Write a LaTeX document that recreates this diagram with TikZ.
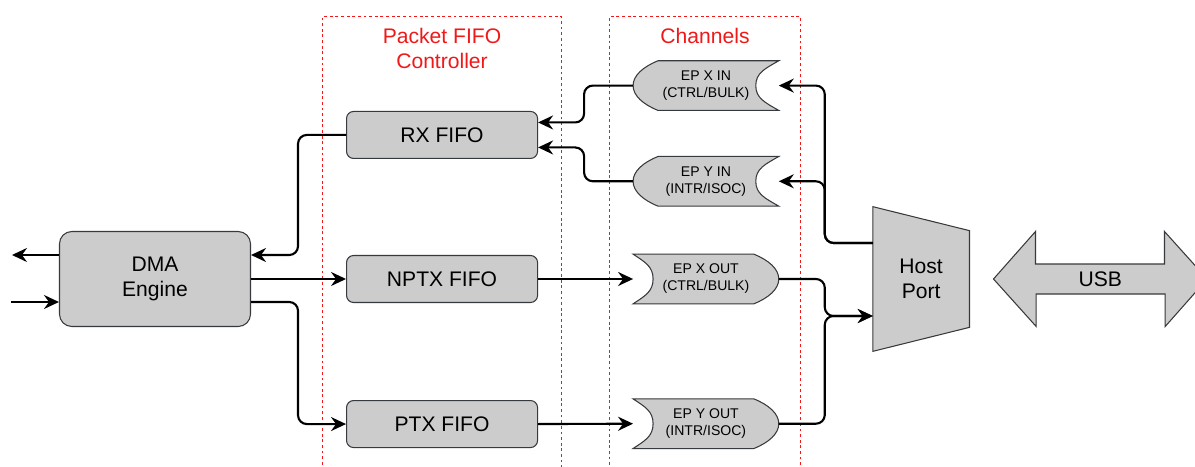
\documentclass[tikz,border=0pt]{standalone}
\usepackage{fontspec}
\setmainfont{Liberation Sans}
\usetikzlibrary{positioning, calc, backgrounds, arrows.meta}
\definecolor{usbFill}{HTML}{CCCCCC}
\definecolor{usbLine}{HTML}{36393D}
\definecolor{usbZone}{HTML}{F01818}

\begin{document}
\begin{tikzpicture}[
  block/.style={draw=usbLine, fill=usbFill, rounded corners=4pt, line width=0.6pt, align=center, font=\fontsize{12}{14.2}\selectfont, minimum width=3.82cm, minimum height=0.94cm, inner sep=0pt},
  chan/.style={align=center, font=\fontsize{8}{9.7}\selectfont, minimum width=2.9cm, minimum height=0.98cm, inner sep=0pt},
  port/.style={align=center, font=\fontsize{12}{14.2}\selectfont, inner sep=0pt},
  outline/.style={draw=usbLine, fill=usbFill, line width=0.6pt},
  zone/.style={draw=usbZone, dash pattern=on 1.6pt off 1.6pt, line width=0.6pt, minimum height=9.2cm, anchor=north west},
  zonelabel/.style={text=usbZone, align=center, font=\fontsize{12}{14.2}\selectfont},
  arr/.style={-{Stealth[length=3mm, width=2.8mm, inset=1mm]}, line width=1.2pt, rounded corners=5pt}
]
\useasboundingbox (-3.1,-3.74) rectangle (20.8,5.58);

\node[zone, minimum width=4.78cm] (fifozone) at (3.34,5.26) {};
\node[zone, minimum width=3.82cm] (chanzone) at (9.08,5.26) {};
\node[zonelabel] (fifolabel) at ($(fifozone.north)+(0,-0.65)$) {Packet FIFO\\Controller};
\node[zonelabel] (chanlabel) at ($(chanzone.north)+(0,-0.4)$) {Channels};

\node[block, rounded corners=7pt, minimum height=1.9cm] (dma) at (0,0) {DMA\\Engine};
\node[block, right=1.9cm of dma] (nptx) {NPTX FIFO};
\node[block, above=1.92cm of nptx] (rx) {RX FIFO};
\node[block, below=1.94cm of nptx] (ptx) {PTX FIFO};

\node[chan, right=1.9cm of nptx] (epxout) {EP X OUT\\(CTRL/BULK)};
\node[chan, below=1.9cm of epxout] (epyout) {EP Y OUT\\(INTR/ISOC)};
\node[chan, above=0.96cm of epxout] (epyin) {EP Y IN\\(INTR/ISOC)};
\node[chan, above=0.92cm of epyin] (epxin) {EP X IN\\(CTRL/BULK)};

\node[port, minimum width=1.92cm, minimum height=2.88cm, right=1.88cm of epxout] (host) {Host\\Port};
\node[port, minimum width=4.26cm, minimum height=1.9cm, right=0.48cm of host] (usb) {USB};

\coordinate (sysout) at ([xshift=-0.94cm, yshift=0.48cm]dma.west);
\coordinate (sysin) at ([xshift=-0.96cm, yshift=-0.46cm]dma.west);

\begin{scope}[on background layer]
\foreach \n in {epxin, epyin} {
  \draw[outline] ([xshift=0.5cm]\n.north west) -- (\n.north east)
    .. controls ([xshift=-0.28cm, yshift=-0.16cm]\n.north east) and ([xshift=-0.46cm, yshift=0.25cm]\n.east) .. ([xshift=-0.46cm]\n.east)
    .. controls ([xshift=-0.46cm, yshift=-0.25cm]\n.east) and ([xshift=-0.28cm, yshift=0.16cm]\n.south east) .. (\n.south east)
    -- ([xshift=0.5cm]\n.south west)
    .. controls ([xshift=0.2cm, yshift=0.12cm]\n.south west) and ([yshift=-0.2cm]\n.west) .. (\n.west)
    .. controls ([yshift=0.2cm]\n.west) and ([xshift=0.2cm, yshift=-0.12cm]\n.north west) .. ([xshift=0.5cm]\n.north west)
    -- cycle;
}
\foreach \n in {epxout, epyout} {
  \draw[outline] (\n.north west) -- ([xshift=-0.5cm]\n.north east)
    .. controls ([xshift=-0.2cm, yshift=-0.12cm]\n.north east) and ([yshift=0.2cm]\n.east) .. (\n.east)
    .. controls ([yshift=-0.2cm]\n.east) and ([xshift=-0.2cm, yshift=0.12cm]\n.south east) .. ([xshift=-0.5cm]\n.south east)
    -- (\n.south west)
    .. controls ([xshift=0.24cm, yshift=0.16cm]\n.south west) and ([xshift=0.4cm, yshift=-0.25cm]\n.west) .. ([xshift=0.4cm]\n.west)
    .. controls ([xshift=0.4cm, yshift=0.25cm]\n.west) and ([xshift=0.24cm, yshift=-0.16cm]\n.north west) .. (\n.north west)
    -- cycle;
}
\draw[outline] (host.north west) -- ([yshift=-0.48cm]host.north east) -- ([yshift=0.48cm]host.south east) -- (host.south west) -- cycle;
\draw[outline] (usb.west) -- ++(0.84,0.95) -- ++(0,-0.65) -- ++(2.58,0) -- ++(0,0.65) -- (usb.east)
  -- ++(-0.84,-0.95) -- ++(0,0.65) -- ++(-2.58,0) -- ++(0,-0.65) -- cycle;
\end{scope}

\draw[arr] ([yshift=0.48cm]dma.west) -- (sysout);
\draw[arr] (sysin) -- (sysin -| dma.west);
\draw[arr] (rx.west) -- ++(-0.96,0) |- ([yshift=0.48cm]dma.east);
\draw[arr] (dma.east |- nptx) -- (nptx.west);
\draw[arr] ([yshift=-0.46cm]dma.east) -- ++(0.94,0) |- (ptx.west);

\draw[arr] (epxin.west) -- ++(-0.98,0) |- ([yshift=0.25cm]rx.east);
\draw[arr] (epyin.west) -- ++(-0.98,0) |- ([yshift=-0.25cm]rx.east);
\draw[arr] (nptx.east) -- (epxout.west);
\draw[arr] (ptx.east) -- (epyout.west);

\draw[arr] ([yshift=0.72cm]host.west) -- ++(-0.96,0) |- (epxin.east);
\draw[arr] ([yshift=0.72cm]host.west) -- ++(-0.96,0) |- (epyin.east);
\draw[arr] (epxout.east) -- ++(0.92,0) |- ([yshift=-0.74cm]host.west);
\draw[arr] (epyout.east) -- ++(0.92,0) |- ([yshift=-0.74cm]host.west);
\end{tikzpicture}
\end{document}
